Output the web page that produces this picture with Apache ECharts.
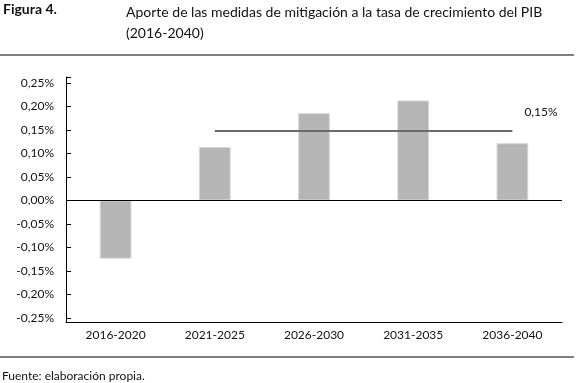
<!DOCTYPE html>
<html>
<head>
<meta charset="utf-8">
<script src="https://cdn.jsdelivr.net/npm/echarts@6/dist/echarts.min.js"></script>
<style>
html,body{margin:0;padding:0;background:#fff;}
#chart{width:577px;height:383px;}
</style>
</head>
<body>
<div id="chart"></div>
<script>
// ---- data ----
var categories = ['2016-2020', '2021-2025', '2026-2030', '2031-2035', '2036-2040'];
var contribution = [-0.124, 0.114, 0.186, 0.213, 0.122];
var averageValue = 0.148;
var averageFrom = 1; // line spans from this category to the last
var yTickValues = [-0.25, -0.20, -0.15, -0.10, -0.05, 0, 0.05, 0.10, 0.15, 0.20, 0.25];
var yMin = -0.259, yMax = 0.263;

var FONT = 'Lato, "Liberation Sans", sans-serif';
var TXT = '#111';

function pct(v) {
  return v.toFixed(2).replace('.', ',') + '%';
}

var averageLine = categories.map(function (c, i) {
  return i < averageFrom ? null : averageValue;
});

var chart = echarts.init(document.getElementById('chart'), null, {renderer: 'canvas'});
chart.setOption({
  animation: false,
  backgroundColor: '#fff',
  textStyle: {fontFamily: FONT},
  grid: {left: 66, right: 15, top: 77, bottom: 61},
  graphic: [
    {type: 'text', left: 3, top: 2, style: {text: 'Figura 4.', font: 'bold 14px ' + FONT, fill: TXT}},
    {type: 'text', left: 126, top: 2, style: {text: 'Aporte de las medidas de mitigación a la tasa de crecimiento del PIB\n(2016-2040)', font: '14px ' + FONT, fill: TXT, lineHeight: 21}},
    {type: 'line', shape: {x1: 0, y1: 55, x2: 574, y2: 55}, style: {stroke: '#000', lineWidth: 1.2}},
    {type: 'line', shape: {x1: 0, y1: 357, x2: 574, y2: 357}, style: {stroke: '#000', lineWidth: 1.2}},
    {type: 'text', left: 2, top: 370, style: {text: 'Fuente: elaboración propia.', font: '12px ' + FONT, fill: TXT}}
  ],
  xAxis: {
    type: 'category',
    data: categories,
    boundaryGap: true,
    axisLine: {onZero: false, lineStyle: {color: '#000', width: 1}},
    axisTick: {show: false},
    axisLabel: {color: TXT, fontSize: 12, fontFamily: FONT, margin: 7}
  },
  yAxis: {
    type: 'value',
    min: yMin, max: yMax,
    splitLine: {show: false},
    axisLine: {show: true, lineStyle: {color: '#000', width: 1}},
    axisTick: {show: true, inside: true, length: 5, customValues: yTickValues.concat([yMax]), lineStyle: {color: '#000'}},
    axisLabel: {color: TXT, fontSize: 12, fontFamily: FONT, margin: 12, customValues: yTickValues, formatter: pct}
  },
  series: [
    {
      type: 'bar',
      data: contribution,
      barWidth: '32%',
      itemStyle: {color: '#b5b5b5', borderColor: '#d8d8d8', borderWidth: 1},
      markLine: {
        silent: true, symbol: 'none', label: {show: false},
        lineStyle: {color: '#000', width: 1, type: 'solid'},
        data: [{yAxis: 0}]
      }
    },
    {
      type: 'line',
      data: averageLine,
      symbol: 'none',
      lineStyle: {color: '#6b6b6b', width: 2},
      endLabel: {
        show: true, distance: 5, offset: [7, -19],
        formatter: function (p) { return pct(p.value); },
        fontFamily: FONT, fontSize: 12, color: TXT
      },
      z: 5
    }
  ]
});
</script>
</body>
</html>
